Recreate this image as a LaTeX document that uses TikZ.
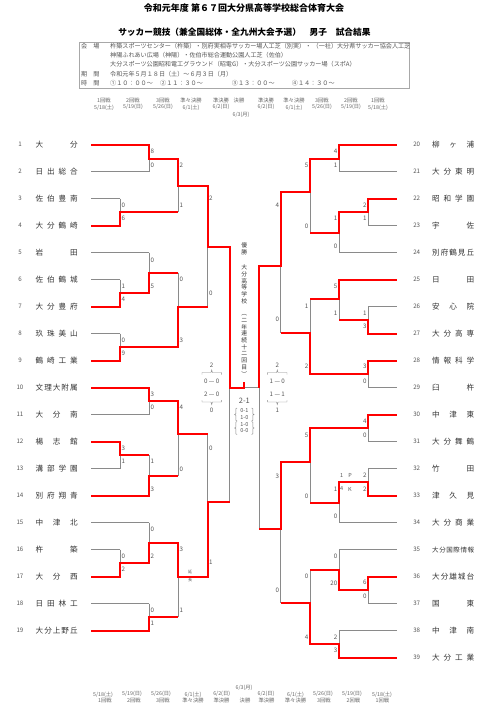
\documentclass[tikz,border=0pt]{standalone}
\usepackage{fontspec}
\setmainfont{Noto Sans CJK JP}
\definecolor{gl}{HTML}{8A8A8A}
\definecolor{rl}{HTML}{FF0000}
\definecolor{tx}{HTML}{333333}
\definecolor{sx}{HTML}{555555}
\definecolor{hx}{HTML}{666666}
\definecolor{bx}{HTML}{A8A8A8}
\newcounter{sn}
\newcommand\TL[3]{\node[tnum] (nl#1) at (20,#2) {#1};\node[tname] (tl#1) at (35.5,#2) {\makebox[42pt]{#3}};}
\newcommand\TR[3]{\node[tnum] (nr#1) at (416.7,#2) {#1};\node[tname] (tr#1) at (432,#2) {\makebox[42pt]{#3}};}
\newcommand\SL[3]{\stepcounter{sn}\node[sc,anchor=west] (sc\arabic{sn}) at (#1+1.3,#2) {#3};}
\newcommand\SR[3]{\stepcounter{sn}\node[sc,anchor=east] (sc\arabic{sn}) at (#1-1.5,#2) {#3};}
\newcommand\HD[3]{\stepcounter{sn}\node[hdr] (hd\arabic{sn}) at (#1,#2) {#3};}
\begin{document}
\begin{tikzpicture}[x=1pt,y=-1pt,
  g/.style={draw=gl,line width=0.9pt},
  r/.style={draw=rl,line width=2pt,line join=miter},
  br/.style={draw=gl,line width=0.45pt},
  tname/.style={anchor=west,inner sep=0pt,font=\fontsize{7.6}{7.6}\selectfont,text=tx},
  tnum/.style={inner sep=0pt,font=\fontsize{6.2}{6.2}\selectfont,text=sx},
  sc/.style={inner sep=0pt,font=\fontsize{6.2}{6.2}\selectfont,text=sx},
  hdr/.style={inner sep=0pt,font=\fontsize{5.3}{5.3}\selectfont,text=hx},
  info/.style={anchor=west,inner sep=0pt,font=\fontsize{6.1}{6.1}\selectfont,text=sx},
  vt/.style={anchor=north,align=center,inner sep=0pt,font=\fontsize{5.8}{6.8}\selectfont,text=tx},
  ttl/.style={inner sep=0pt,font=\bfseries\fontsize{9}{9}\selectfont,text=black}]
\useasboundingbox (0,0) rectangle (479,721);
\fill[white] (0,0) rectangle (479,721);

% titles
\node[ttl] (title) at (244,8.3) {令和元年度 第６７回大分県高等学校総合体育大会};
\node[ttl,font=\bfseries\fontsize{8.7}{8.7}\selectfont] (sub) at (244.4,31.7) {サッカー競技（兼全国総体・全九州大会予選）　男子　試合結果};

% info box
\draw[draw=bx,line width=0.5pt] (79,42) rectangle (409,88);
\begin{scope}
\clip (79,42) rectangle (409,88);
\node[info] (i1l) at (81,45.7) {会　場};
\node[info] (i1) at (110,45.7) {杵築スポーツセンター（杵築）・別府実相寺サッカー場人工芝（別実）・ （一社）大分県サッカー協会人工芝（人工芝）};
\node[info] (i2) at (110,55) {神陽ふれあい広場（神陽）・佐伯市総合運動公園人工芝（佐伯）};
\node[info] (i3) at (110,64.3) {大分スポーツ公園昭和電工グラウンド（昭電G）・大分スポーツ公園サッカー場（スポA）};
\node[info] (i4l) at (81,74) {期　間};
\node[info] (i4) at (110,74) {令和元年５月１８日（土）～６月３日（月）};
\node[info] (i5l) at (81,82.7) {時　間};
\node[info] (i5a) at (110,82.7) {①１０：００～};
\node[info] (i5b) at (160,82.7) {②１１：３０～};
\node[info] (i5c) at (231.7,82.7) {③１３：００～};
\node[info] (i5d) at (291.7,82.7) {④１４：３０～};
\end{scope}

% headers top
\HD{104}{100}{1回戦}\HD{133}{100}{2回戦}\HD{163}{100}{3回戦}\HD{191}{100}{準々決勝}\HD{221}{100}{準決勝}
\HD{239}{100}{決勝}
\HD{266}{100}{準決勝}\HD{294}{100}{準々決勝}\HD{322}{100}{3回戦}\HD{351}{100}{2回戦}\HD{378}{100}{1回戦}
\HD{104}{107.3}{5/18(土)}\HD{133}{107.3}{5/19(日)}\HD{163}{107.3}{5/26(日)}\HD{191}{107.3}{6/1(土)}\HD{221}{107.3}{6/2(日)}
\HD{266}{107.3}{6/2(日)}\HD{294}{107.3}{6/1(土)}\HD{322}{107.3}{5/26(日)}\HD{351}{107.3}{5/19(日)}\HD{378}{107.3}{5/18(土)}
\HD{241}{115}{6/3(月)}
% headers bottom
\HD{244}{687.7}{6/3(月)}
\HD{103}{694.3}{5/18(土)}\HD{132}{694.3}{5/19(日)}\HD{161}{694.3}{5/26(日)}\HD{193}{694.3}{6/1(土)}\HD{221.7}{694.3}{6/2(日)}
\HD{266}{694.3}{6/2(日)}\HD{295.5}{694.3}{6/1(土)}\HD{323}{694.3}{5/26(日)}\HD{352}{694.3}{5/19(日)}\HD{382}{694.3}{5/18(土)}
\HD{105}{700.7}{1回戦}\HD{134}{700.7}{2回戦}\HD{163}{700.7}{3回戦}\HD{193}{700.7}{準々決勝}\HD{221.5}{700.7}{準決勝}
\HD{245}{700.7}{決勝}
\HD{266.5}{700.7}{準決勝}\HD{295.5}{700.7}{準々決勝}\HD{324}{700.7}{3回戦}\HD{353.5}{700.7}{2回戦}\HD{382.5}{700.7}{1回戦}

% ---------- grey bracket, left ----------
\draw[g] (91,144.7)--(149,144.7) (91,171.7)--(149,171.7) (91,198.7)--(120,198.7) (91,225.7)--(120,225.7)
 (91,252.7)--(149,252.7) (91,279.7)--(120,279.7) (91,306.7)--(120,306.7) (91,333.7)--(120,333.7)
 (91,360.7)--(120,360.7) (91,387.7)--(149,387.7) (91,414.7)--(149,414.7) (91,441.7)--(120,441.7)
 (91,468.7)--(120,468.7) (91,495.7)--(149,495.7) (91,522.7)--(149,522.7) (91,549.7)--(120,549.7)
 (91,576.7)--(120,576.7) (91,603.7)--(149,603.7) (91,630.7)--(149,630.7);
\draw[g] (149,144.7)--(149,171.7) (149,158.5)--(178,158.5)
 (120,198.7)--(120,225.7) (120,212.2)--(178,212.2)
 (178,158.5)--(178,212.2) (178,185.7)--(207.7,185.7)
 (120,279.7)--(120,306.7) (120,293.2)--(149,293.2)
 (149,252.7)--(149,293.2) (149,272.7)--(178,272.7)
 (120,333.7)--(120,360.7) (120,347.2)--(178,347.2)
 (178,272.7)--(178,347.2) (178,306.7)--(207.7,306.7)
 (207.7,185.7)--(207.7,306.7) (207.7,246.7)--(229.5,246.7)
 (149,387.7)--(149,414.7) (149,401.2)--(178,401.2)
 (120,441.7)--(120,468.7) (120,455.2)--(149,455.2)
 (149,455.2)--(149,495.7) (149,475.7)--(178,475.7)
 (178,401.2)--(178,475.7) (178,434.3)--(207.7,434.3)
 (120,549.7)--(120,576.7) (120,563.2)--(149,563.2)
 (149,522.7)--(149,563.2) (149,543.3)--(178,543.3)
 (149,603.7)--(149,630.7) (149,617.2)--(178,617.2)
 (178,543.3)--(178,617.2) (178,576.7)--(207.7,576.7)
 (207.7,434.3)--(207.7,576.7) (207.7,502.3)--(229.5,502.3)
 (229.5,246.7)--(229.5,502.3)
 (229.5,387.7)--(259.3,387.7)
 (259.3,266)--(259.3,529.3);
% ---------- grey bracket, right ----------
\draw[g] (396.7,144.7)--(339,144.7) (396.7,171.7)--(339,171.7) (396.7,198.7)--(368.3,198.7) (396.7,225.7)--(368.3,225.7)
 (396.7,252.7)--(339,252.7) (396.7,279.7)--(339,279.7) (396.7,306.7)--(368.3,306.7) (396.7,333.7)--(368.3,333.7)
 (396.7,360.7)--(368.3,360.7) (396.7,387.7)--(368.3,387.7) (396.7,414.7)--(368.3,414.7) (396.7,441.7)--(368.3,441.7)
 (396.7,468.7)--(368.3,468.7) (396.7,495.7)--(368.3,495.7) (396.7,522.7)--(339,522.7) (396.7,549.7)--(339,549.7)
 (396.7,576.7)--(368.3,576.7) (396.7,603.7)--(368.3,603.7) (396.7,630.7)--(339,630.7) (396.7,657.7)--(339,657.7);
\draw[g] (339,144.7)--(339,171.7) (339,158.5)--(310,158.5)
 (368.3,198.7)--(368.3,225.7) (368.3,212.2)--(339,212.2)
 (339,212.2)--(339,252.7) (339,232.7)--(310,232.7)
 (310,158.5)--(310,232.7) (310,191.7)--(280.7,191.7)
 (368.3,306.7)--(368.3,333.7) (368.3,320.2)--(339,320.2)
 (339,279.7)--(339,320.2) (339,299.3)--(310,299.3)
 (368.3,360.7)--(368.3,387.7) (368.3,374.2)--(310,374.2)
 (310,299.3)--(310,374.2) (310,333.3)--(280.7,333.3)
 (280.7,191.7)--(280.7,333.3) (280.7,266)--(259.3,266)
 (368.3,414.7)--(368.3,441.7) (368.3,428.2)--(310,428.2)
 (368.3,468.7)--(368.3,495.7) (368.3,482.2)--(339,482.2)
 (339,482.2)--(339,522.7) (339,502.7)--(310,502.7)
 (310,428.2)--(310,502.7) (310,461.7)--(280.7,461.7)
 (368.3,576.7)--(368.3,603.7) (368.3,590.2)--(339,590.2)
 (339,549.7)--(339,590.2) (339,570)--(310,570)
 (339,630.7)--(339,657.7) (339,644.2)--(310,644.2)
 (310,570)--(310,644.2) (310,603.3)--(280.7,603.3)
 (280.7,461.7)--(280.7,603.3) (280.7,529.3)--(259.3,529.3);

% ---------- red winner paths ----------
\draw[r] (91,144.7)--(149,144.7)--(149,158.5)--(178,158.5)--(178,185.7)--(207.7,185.7)--(207.7,246.7)--(229.5,246.7)--(229.5,387.7)--(244.3,387.7)--(244.3,381.5);
\draw[r] (91,225.7)--(120,225.7)--(120,212.2)--(178,212.2);
\draw[r] (91,306.7)--(120,306.7)--(120,293.2)--(149,293.2)--(149,272.7)--(178,272.7);
\draw[r] (91,360.7)--(120,360.7)--(120,347.2)--(178,347.2)--(178,306.7)--(207.7,306.7);
\draw[r] (91,387.7)--(149,387.7)--(149,401.2)--(178,401.2)--(178,434.3)--(207.7,434.3);
\draw[r] (91,441.7)--(120,441.7)--(120,455.2)--(149,455.2);
\draw[r] (91,495.7)--(149,495.7)--(149,475.7)--(178,475.7);
\draw[r] (91,576.7)--(120,576.7)--(120,563.2)--(149,563.2)--(149,543.3)--(178,543.3)--(178,576.7)--(207.7,576.7)--(207.7,502.3)--(229.5,502.3);
\draw[r] (91,630.7)--(149,630.7)--(149,617.2)--(178,617.2);
\draw[r] (396.7,144.7)--(339,144.7)--(339,158.5)--(310,158.5)--(310,191.7)--(280.7,191.7)--(280.7,266)--(259.3,266)--(259.3,387.7);
\draw[r] (396.7,198.7)--(368.3,198.7)--(368.3,212.2)--(339,212.2)--(339,232.7)--(310,232.7);
\draw[r] (396.7,279.7)--(339,279.7)--(339,299.3)--(310,299.3);
\draw[r] (396.7,333.7)--(368.3,333.7)--(368.3,320.2)--(339,320.2);
\draw[r] (396.7,360.7)--(368.3,360.7)--(368.3,374.2)--(310,374.2)--(310,333.3)--(280.7,333.3);
\draw[r] (396.7,414.7)--(368.3,414.7)--(368.3,428.2)--(310,428.2)--(310,461.7)--(280.7,461.7)--(280.7,529.3)--(259.3,529.3);
\draw[r] (396.7,495.7)--(368.3,495.7)--(368.3,482.2)--(339,482.2)--(339,502.7)--(310,502.7);
\draw[r] (396.7,576.7)--(368.3,576.7)--(368.3,590.2)--(339,590.2)--(339,570)--(310,570);
\draw[r] (396.7,657.7)--(339,657.7)--(339,644.2)--(310,644.2)--(310,603.3)--(280.7,603.3);

% ---------- teams ----------
\TL{1}{144.7}{大\hfill 分}
\TL{2}{171.7}{日\hfill 出\hfill 総\hfill 合}
\TL{3}{198.7}{佐\hfill 伯\hfill 豊\hfill 南}
\TL{4}{225.7}{大\hfill 分\hfill 鶴\hfill 崎}
\TL{5}{252.7}{岩\hfill 田}
\TL{6}{279.7}{佐\hfill 伯\hfill 鶴\hfill 城}
\TL{7}{306.7}{大\hfill 分\hfill 豊\hfill 府}
\TL{8}{333.7}{玖\hfill 珠\hfill 美\hfill 山}
\TL{9}{360.7}{鶴\hfill 崎\hfill 工\hfill 業}
\TL{10}{387.7}{文\hfill 理\hfill 大\hfill 附\hfill 属}
\TL{11}{414.7}{大\hfill 分\hfill 南}
\TL{12}{441.7}{楊\hfill 志\hfill 館}
\TL{13}{468.7}{溝\hfill 部\hfill 学\hfill 園}
\TL{14}{495.7}{別\hfill 府\hfill 翔\hfill 青}
\TL{15}{522.7}{中\hfill 津\hfill 北}
\TL{16}{549.7}{杵\hfill 築}
\TL{17}{576.7}{大\hfill 分\hfill 西}
\TL{18}{603.7}{日\hfill 田\hfill 林\hfill 工}
\TL{19}{630.7}{大\hfill 分\hfill 上\hfill 野\hfill 丘}
\TR{20}{144.7}{柳\hfill ヶ\hfill 浦}
\TR{21}{171.7}{大\hfill 分\hfill 東\hfill 明}
\TR{22}{198.7}{昭\hfill 和\hfill 学\hfill 園}
\TR{23}{225.7}{宇\hfill 佐}
\TR{24}{252.7}{別\hfill 府\hfill 鶴\hfill 見\hfill 丘}
\TR{25}{279.7}{日\hfill 田}
\TR{26}{306.7}{安\hfill 心\hfill 院}
\TR{27}{333.7}{大\hfill 分\hfill 高\hfill 専}
\TR{28}{360.7}{情\hfill 報\hfill 科\hfill 学}
\TR{29}{387.7}{臼\hfill 杵}
\TR{30}{414.7}{中\hfill 津\hfill 東}
\TR{31}{441.7}{大\hfill 分\hfill 舞\hfill 鶴}
\TR{32}{468.7}{竹\hfill 田}
\TR{33}{495.7}{津\hfill 久\hfill 見}
\TR{34}{522.7}{大\hfill 分\hfill 商\hfill 業}
\TR{35}{549.7}{\fontsize{6.5}{6.5}\selectfont 大\hfill 分\hfill 国\hfill 際\hfill 情\hfill 報}
\TR{36}{576.7}{大\hfill 分\hfill 雄\hfill 城\hfill 台}
\TR{37}{603.7}{国\hfill 東}
\TR{38}{630.7}{中\hfill 津\hfill 南}
\TR{39}{657.7}{大\hfill 分\hfill 工\hfill 業}

% ---------- scores left ----------
\SL{149}{151.7}{8}\SL{149}{165}{0}
\SL{120}{205.7}{0}\SL{120}{218}{6}
\SL{178}{165}{2}\SL{178}{205.7}{1}
\SL{120}{286}{1}\SL{120}{299.3}{4}
\SL{149}{260}{0}\SL{149}{286}{5}
\SL{120}{340}{0}\SL{120}{353.3}{9}
\SL{178}{279.3}{0}\SL{178}{340}{3}
\SL{207.7}{198.3}{2}\SL{207.7}{293.3}{0}
\SL{149}{394.3}{3}\SL{149}{407.7}{0}
\SL{120}{448.3}{3}\SL{120}{461.7}{1}
\SL{149}{461.7}{1}\SL{149}{489}{3}
\SL{178}{407.7}{4}\SL{178}{469}{0}
\SL{120}{556}{0}\SL{120}{569.3}{2}
\SL{149}{529.3}{0}\SL{149}{556}{2}
\SL{149}{610}{0}\SL{149}{623.3}{1}
\SL{178}{549.3}{3}\SL{178}{610}{1}
\SL{207.7}{448.3}{0}\SL{207.7}{562.7}{1}
% ---------- scores right ----------
\SR{339}{151.7}{4}\SR{339}{165}{1}
\SR{368.3}{205}{2}\SR{368.3}{218.3}{1}
\SR{339}{218.3}{1}\SR{339}{246}{0}
\SR{310}{165}{5}\SR{310}{226}{0}
\SR{368.3}{313.3}{1}\SR{368.3}{326.7}{3}
\SR{339}{286}{5}\SR{339}{313.3}{1}
\SR{368.3}{366.7}{3}\SR{368.3}{381}{0}
\SR{310}{306.7}{1}\SR{310}{366.7}{2}
\SR{280.7}{205}{4}\SR{280.7}{319.3}{0}
\SR{368.3}{421.7}{4}\SR{368.3}{435}{0}
\SR{368.3}{475.7}{2}\SR{368.3}{489}{2}
\SR{339}{489}{1}\SR{339}{516}{0}
\SR{310}{435}{5}\SR{310}{496}{0}
\SR{368.3}{582.7}{6}\SR{368.3}{596.7}{0}
\SR{339}{556}{0}\SR{339}{583}{20}
\SR{339}{637.3}{2}\SR{339}{650.7}{3}
\SR{310}{576.7}{0}\SR{310}{637.3}{4}
\SR{280.7}{476}{3}\SR{280.7}{590}{0}
% PK
\node[sc,font=\fontsize{5.5}{5.5}\selectfont] (pk1) at (341.7,475.7) {1};
\node[sc,font=\fontsize{5.5}{5.5}\selectfont] (pk2) at (350,475.7) {P};
\node[sc,font=\fontsize{5.5}{5.5}\selectfont] (pk3) at (341.7,489) {4};
\node[sc,font=\fontsize{5.5}{5.5}\selectfont] (pk4) at (350,489) {K};
% extra time label
\node[sc,align=center,font=\fontsize{4}{8.3}\selectfont] (ench) at (190,576) {延\\長};

% ---------- champion ----------
\node[vt] (v1) at (244.3,242.3) {優\\勝};
\node[vt] (v2) at (244.3,264.5) {大\\分\\高\\等\\学\\校};
\node[vt,font=\fontsize{5.8}{6.7}\selectfont] (v3) at (244.3,314.5) {︵\\二\\年\\連\\続\\十\\二\\回\\目\\︶};

% ---------- semifinal detail ----------
\node[sc] (sfl1) at (211.7,365) {2};
\draw[br] (202,374.5)--(202,372.5)--(211,372.5)--(211.7,370)--(212.4,372.5)--(221.4,372.5)--(221.4,374.5);
\node[sc] (sfl2) at (211.7,381) {0 — 0};
\node[sc] (sfl3) at (211.7,394.3) {2 — 0};
\draw[br] (202,400)--(202,402)--(211,402)--(211.7,404.5)--(212.4,402)--(221.4,402)--(221.4,400);
\node[sc] (sfl4) at (211.7,410.7) {0};
\node[sc] (sfr1) at (277.3,365) {2};
\draw[br] (267.6,374.5)--(267.6,372.5)--(276.6,372.5)--(277.3,370)--(278,372.5)--(287,372.5)--(287,374.5);
\node[sc] (sfr2) at (277.3,381) {1 — 0};
\node[sc] (sfr3) at (277.3,394.3) {1 — 1};
\draw[br] (267.6,400)--(267.6,402)--(276.6,402)--(277.3,404.5)--(278,402)--(287,402)--(287,400);
\node[sc] (sfr4) at (277.3,410.7) {1};

% ---------- final detail ----------
\node[sc,font=\fontsize{7.5}{7.5}\selectfont] (fin) at (244.3,401) {2-1};
\node[sc,font=\fontsize{5.5}{5.5}\selectfont] (f1) at (244.3,411) {0-1};
\node[sc,font=\fontsize{5.5}{5.5}\selectfont] (f2) at (244.3,417.7) {1-0};
\node[sc,font=\fontsize{5.5}{5.5}\selectfont] (f3) at (244.3,424.3) {1-0};
\node[sc,font=\fontsize{5.5}{5.5}\selectfont] (f4) at (244.3,431) {0-0};
\draw[br] (237,408)--(235.8,408.7)--(235.8,413.8)--(234.6,414.5)--(235.8,415.2)--(235.8,420.3)--(237,421);
\draw[br] (237,421.5)--(235.8,422.2)--(235.8,427.3)--(234.6,428)--(235.8,428.7)--(235.8,433.8)--(237,434.5);
\draw[br] (251.6,408)--(252.8,408.7)--(252.8,413.8)--(254,414.5)--(252.8,415.2)--(252.8,420.3)--(251.6,421);
\draw[br] (251.6,421.5)--(252.8,422.2)--(252.8,427.3)--(254,428)--(252.8,428.7)--(252.8,433.8)--(251.6,434.5);
\end{tikzpicture}
\end{document}
